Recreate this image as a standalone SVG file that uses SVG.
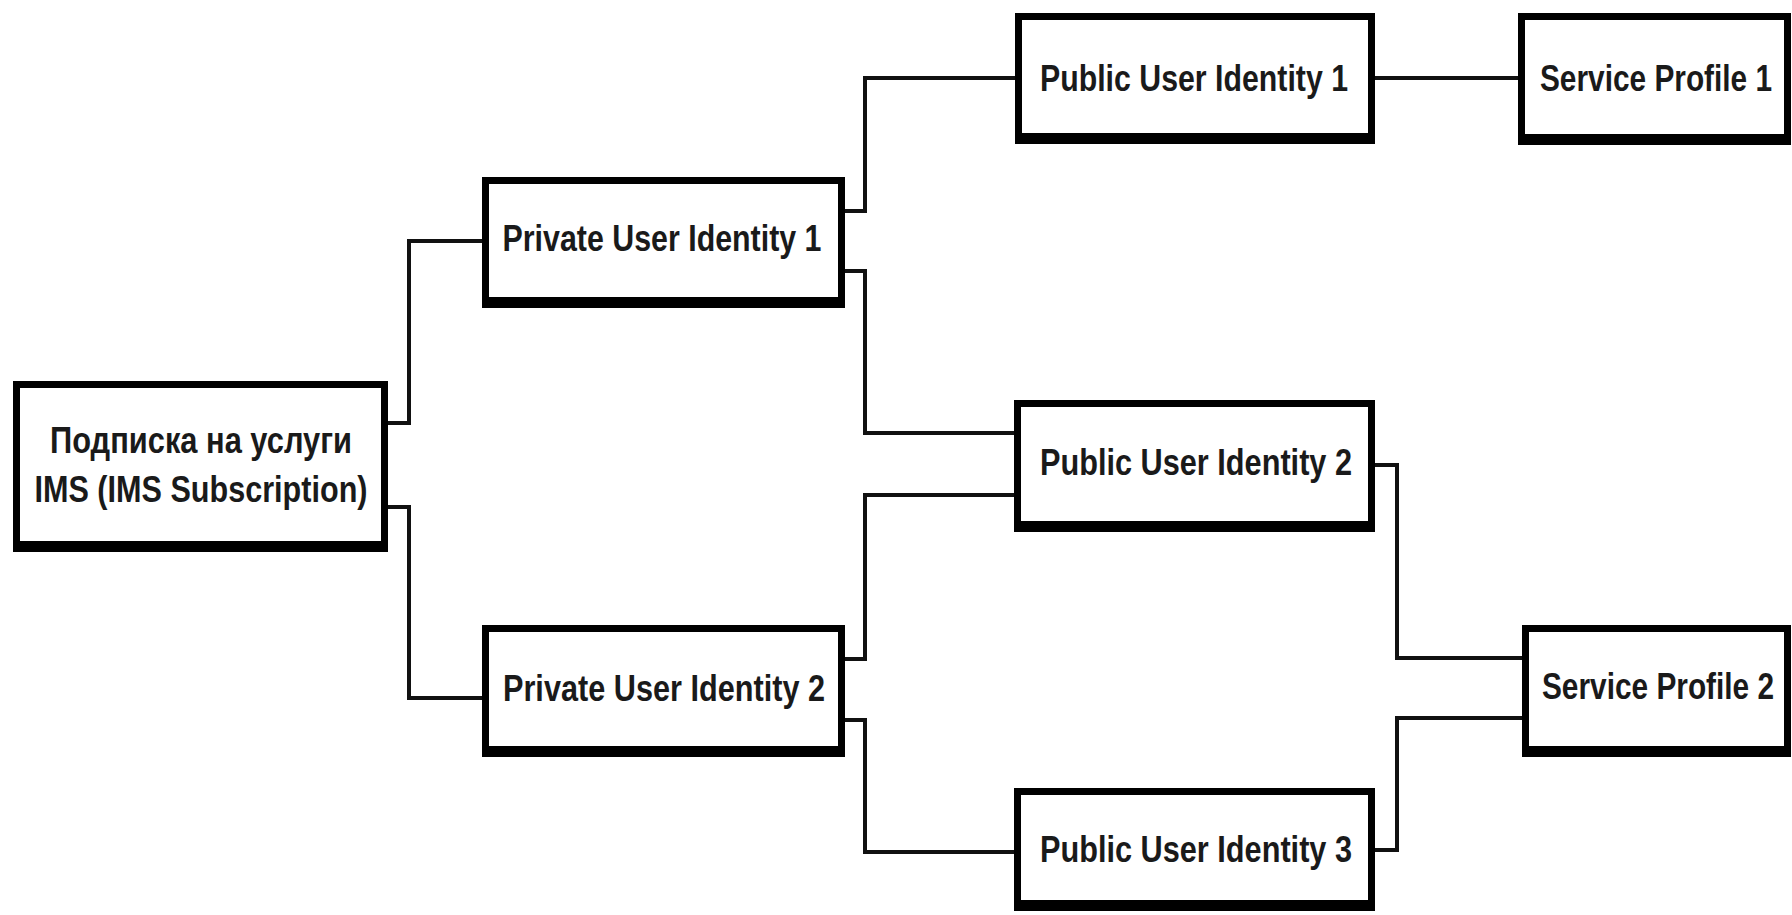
<svg xmlns="http://www.w3.org/2000/svg" width="1792" height="915" viewBox="0 0 1792 915">
<style>
.box{fill:#ffffff;stroke:#000000;stroke-width:7}
.sh{fill:#000000}
.t{font-family:"Liberation Sans Narrow","Liberation Sans",Arial,sans-serif;font-weight:bold;font-size:37px;fill:#1a1a1a;text-anchor:middle}
.c{fill:none;stroke:#111111;stroke-width:4;stroke-linejoin:miter}
</style>
<rect x="0" y="0" width="1792" height="915" fill="#ffffff"/>
<g id="connectors">
<path class="c" d="M388 423 H409 V241 H482"/>
<path class="c" d="M388 507 H409 V698 H482"/>
<path class="c" d="M845 211 H865 V78 H1015"/>
<path class="c" d="M845 271 H865 V433 H1014"/>
<path class="c" d="M845 659 H865 V495 H1014"/>
<path class="c" d="M845 720 H865 V852 H1014"/>
<path class="c" d="M1375 78 H1518"/>
<path class="c" d="M1375 465 H1397 V658 H1522"/>
<path class="c" d="M1375 850 H1397 V718 H1522"/>
</g>
<g id="ims">
<rect class="box" x="16.5" y="384.5" width="368" height="164"/>
<rect class="sh" x="13" y="541" width="375" height="11"/>
<text class="t" x="201" y="453" textLength="302" lengthAdjust="spacingAndGlyphs">Подписка на услуги</text>
<text class="t" x="201" y="502" textLength="333" lengthAdjust="spacingAndGlyphs">IMS (IMS Subscription)</text>
</g>
<g id="priv1">
<rect class="box" x="485.5" y="180.5" width="356" height="124"/>
<rect class="sh" x="482" y="297" width="363" height="11"/>
<text class="t" x="662" y="251" textLength="319" lengthAdjust="spacingAndGlyphs">Private User Identity 1</text>
</g>
<g id="priv2">
<rect class="box" x="485.5" y="628.5" width="356" height="125"/>
<rect class="sh" x="482" y="746" width="363" height="11"/>
<text class="t" x="664" y="701" textLength="322" lengthAdjust="spacingAndGlyphs">Private User Identity 2</text>
</g>
<g id="pub1">
<rect class="box" x="1018.5" y="16.5" width="353" height="124"/>
<rect class="sh" x="1015" y="133" width="360" height="11"/>
<text class="t" x="1194" y="91" textLength="308" lengthAdjust="spacingAndGlyphs">Public User Identity 1</text>
</g>
<g id="pub2">
<rect class="box" x="1017.5" y="403.5" width="354" height="125"/>
<rect class="sh" x="1014" y="521" width="361" height="11"/>
<text class="t" x="1196" y="475" textLength="312" lengthAdjust="spacingAndGlyphs">Public User Identity 2</text>
</g>
<g id="pub3">
<rect class="box" x="1017.5" y="791.5" width="354" height="116"/>
<rect class="sh" x="1014" y="900" width="361" height="11"/>
<text class="t" x="1196" y="862" textLength="312" lengthAdjust="spacingAndGlyphs">Public User Identity 3</text>
</g>
<g id="sp1">
<rect class="box" x="1521.5" y="16.5" width="266" height="125"/>
<rect class="sh" x="1518" y="134" width="273" height="11"/>
<text class="t" transform="translate(1656,91) scale(0.806,1)" x="0" y="0" textLength="288" lengthAdjust="spacingAndGlyphs">Service Profile 1</text>
</g>
<g id="sp2">
<rect class="box" x="1525.5" y="628.5" width="262" height="125"/>
<rect class="sh" x="1522" y="746" width="269" height="11"/>
<text class="t" transform="translate(1658,699) scale(0.806,1)" x="0" y="0" textLength="288" lengthAdjust="spacingAndGlyphs">Service Profile 2</text>
</g>
</svg>
